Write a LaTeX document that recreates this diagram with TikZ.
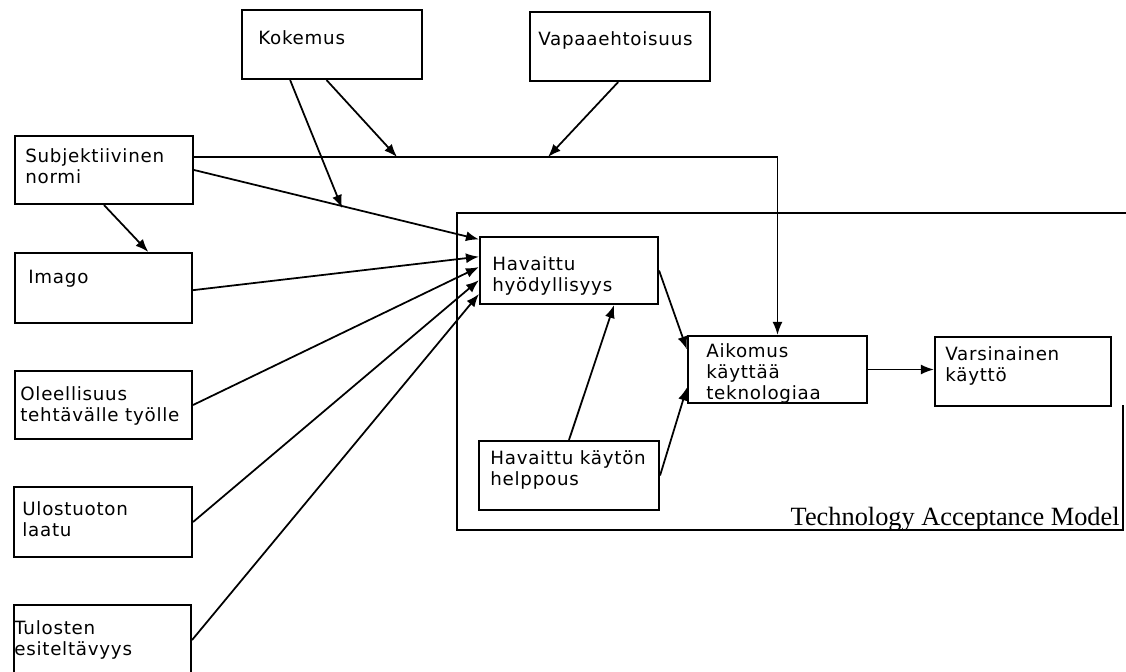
\documentclass[tikz,border=0pt]{standalone}
\usepackage{fontspec}
\setmainfont{DejaVu Sans}[LetterSpace=4]
\newfontfamily\titlefont{Liberation Serif}
\usetikzlibrary{arrows.meta,calc,fit}
\begin{document}
\begin{tikzpicture}[x=0.02cm,y=-0.02cm,
  box/.style={draw,line width=1.2pt,inner sep=0pt,rectangle},
  txt/.style={anchor=north west,inner sep=0pt,align=left,font=\fontsize{10.4}{12}\selectfont},
  arr/.style={line width=1pt,-{Latex[length=2.6mm,width=2mm]}},
  ln/.style={line width=1.2pt}]
\clip (0,0) rectangle (1126,672);
\fill[white] (0,0) rectangle (1126,672);
% boxes
\node[box,fit={(242,10) (422,79)}] (kok) {};
\node[box,fit={(530,12) (710,81)}] (vap) {};
\node[box,fit={(15,136) (193,204)}] (sub) {};
\node[box,fit={(15,253) (192,323)}] (ima) {};
\node[box,fit={(15,371) (192,439)}] (ole) {};
\node[box,fit={(14,487) (192,557)}] (ulo) {};
\node[box,fit={(14,605) (191,675)}] (tul) {};
\node[inner sep=0pt,fit={(457,213) (1123,530)}] (tam) {};
\draw[ln] (tam.north east) ++(5,0) -- (tam.north west) -- (tam.south west) -- (tam.south east) -- ++(0,-125);
\node[box,fit={(480,237) (658,304)}] (hyo) {};
\node[box,fit={(688,336) (867,403)}] (aik) {};
\node[box,fit={(935,337) (1111,406)}] (var) {};
\node[box,fit={(479,441) (659,510)}] (hel) {};
% texts
\node[txt] (tkok) at (258,30) {Kokemus};
\node[txt] (tvap) at (538,31) {Vapaaehtoisuus};
\node[txt] (tsub) at (25,148) {Subjektiivinen\\normi};
\node[txt] (tima) at (28,270) {Imago};
\node[txt] (tole) at (20,386) {Oleellisuus\\tehtävälle työlle};
\node[txt] (tulo) at (22,501) {Ulostuoton\\laatu};
\node[txt] (ttul) at (14,620) {Tulosten\\esiteltävyys};
\node[txt] (thyo) at (492,256) {Havaittu\\hyödyllisyys};
\node[txt] (taik) at (706,343) {Aikomus\\käyttää\\teknologiaa};
\node[txt] (tvar) at (945,346) {Varsinainen\\käyttö};
\node[txt] (thel) at (490,450) {Havaittu käytön\\helppous};
\node[anchor=base east,inner sep=0pt,font=\titlefont\fontsize{15}{17}\selectfont] (ttam) at (1120,525) {Technology Acceptance Model};
% junction coordinates
\coordinate (j1) at (397,157);
\coordinate (j2) at (548,157);
\coordinate (j3) at (342,208);
% connectors
\draw[arr] ($(sub.north east)!0.31!(sub.south east)$) -| (aik.north);
\draw[arr] ($(kok.south west)!0.47!(kok.south east)$) -- (j1);
\draw[arr] ($(kok.south west)!0.27!(kok.south east)$) -- (j3);
\draw[arr] ($(vap.south west)!0.49!(vap.south east)$) -- (j2);
\draw[arr] (sub.east) -- ($(hyo.north west)!0.05!(hyo.south west)$);
\draw[arr] (sub.south) -- ($(ima.north west)!0.75!(ima.north east)$);
\draw[arr] ($(ima.north east)!0.53!(ima.south east)$) -- ($(hyo.north west)!0.3!(hyo.south west)$);
\draw[arr] (ole.east) -- ($(hyo.north west)!0.45!(hyo.south west)$);
\draw[arr] (ulo.east) -- ($(hyo.north west)!0.64!(hyo.south west)$);
\draw[arr] (tul.east) -- ($(hyo.north west)!0.84!(hyo.south west)$);
\draw[arr] (hyo.east) -- ($(aik.north west)!0.21!(aik.south west)$);
\draw[arr] (hel.north) -- ($(hyo.south west)!0.75!(hyo.south east)$);
\draw[arr] (hel.east) -- ($(aik.north west)!0.76!(aik.south west)$);
\draw[arr] (aik.east) -- (aik.east -| var.west);
\end{tikzpicture}
\end{document}
